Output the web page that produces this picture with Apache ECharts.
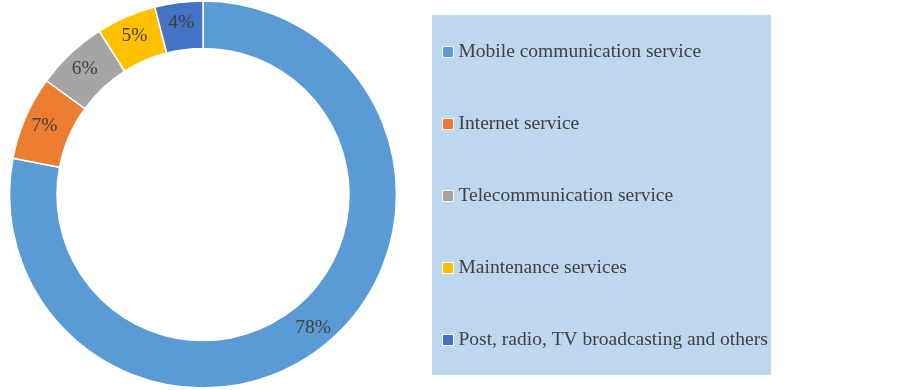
<!DOCTYPE html>
<html>
<head>
<meta charset="utf-8">
<script src="https://cdn.jsdelivr.net/npm/echarts@6/dist/echarts.min.js"></script>
<style>html,body{margin:0;padding:0;background:#fff}#c{width:903px;height:390px}</style>
</head>
<body>
<div id="c"></div>
<script>
const categories = ["Mobile communication service","Internet service","Telecommunication service","Maintenance services","Post, radio, TV broadcasting and others"];
const values = [78, 7, 6, 5, 4];
const colors = ["#5B9BD5","#ED7D31","#A5A5A5","#FFC000","#4472C4"];

const chart = echarts.init(document.getElementById('c'));
const font = '"Liberation Serif", "Times New Roman", serif';
chart.setOption({
  animation: false,
  graphic: [{
    type: 'rect', z: 0,
    shape: { x: 432, y: 15, width: 339, height: 360 },
    style: { fill: '#BDD7EE' }
  }],
  legend: {
    orient: 'vertical',
    left: 432, top: 15,
    padding: [27, 2, 25, 10],
    itemGap: 52,
    itemWidth: 11, itemHeight: 11,
    icon: 'rect',
    itemStyle: { borderColor: '#ffffff', borderWidth: 1 },
    textStyle: { fontFamily: font, fontSize: 19.5, color: '#404040', lineHeight: 20 },
    data: categories
  },
  series: [{
    type: 'pie',
    center: [203, 194.5],
    radius: [146, 193.5],
    startAngle: 90,
    clockwise: true,
    avoidLabelOverlap: false,
    itemStyle: { borderColor: '#ffffff', borderWidth: 1.5 },
    label: {
      show: true, position: 'inside',
      formatter: '{c}%',
      fontFamily: font, fontSize: 19.5, color: '#404040'
    },
    labelLine: { show: false },
    emphasis: { disabled: true },
    data: categories.map((n, i) => ({ name: n, value: values[i], itemStyle: { color: colors[i] } }))
  }]
});
</script>
</body>
</html>
